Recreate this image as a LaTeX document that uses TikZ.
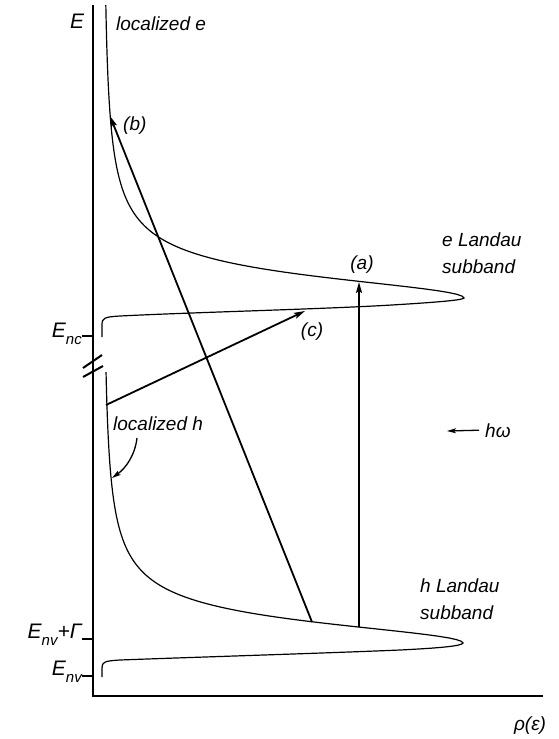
\documentclass[tikz,border=0pt]{standalone}
\usepackage{fontspec}
\setmainfont{Liberation Sans}
\usetikzlibrary{arrows.meta}
\newcommand\lsub[1]{\raisebox{-7pt}{\fontsize{15}{15}\selectfont #1}}

\begin{document}
\begin{tikzpicture}[x=1pt,y=-1pt,
    lbl/.style={font=\fontsize{19}{27}\selectfont\itshape,inner sep=0pt,align=left},
    elbl/.style={font=\fontsize{21}{24}\selectfont\itshape,inner sep=0pt},
    axis/.style={line width=2.6pt},
    tick/.style={line width=2pt},
    band/.style={line width=1.2pt},
    arr/.style={line width=1.8pt,-{Stealth[length=11pt,width=6pt,inset=2pt]}},
    sarr/.style={line width=1.3pt,-{Stealth[length=9pt,width=5pt,inset=2pt]}}]
    \useasboundingbox (0,0) rectangle (559,739);
    % axes
    \coordinate (o) at (93,696);
    \draw[axis] (93,5) -- (o) -- (543,696);
    \node[elbl,anchor=base west] (e) at (70,28) {E};
    \node[lbl,anchor=base] (rho) at (530,730) {ρ(ε)};
    % axis break
    \draw[tick] (83,368) -- (102,355);
    \draw[tick] (83,377) -- (103,366);
    % energy labels and ticks
    \node[elbl,anchor=base east] (enc) at (82,337) {E\lsub{nc}};
    \node[elbl,anchor=base east] (envg) at (82,638) {E\lsub{nv}+\textit{Γ}};
    \node[elbl,anchor=base east] (env) at (82,675) {E\lsub{nv}};
    \draw[tick] (enc.base east) ++(0,-1) -- ++(11,0);
    \draw[tick] (envg.base east) ++(0,1) -- ++(11,0);
    \draw[tick] (env.base east) ++(0,1) -- ++(11,0);
    % e Landau subband
    \draw[band] plot[domain=5:298,samples=160,variable=\t]
        ({103+361/(1+((\t-298)/26)^2)},\t)
        .. controls (463,300) and (440,302) .. (400,304.5)
        .. controls (330,309) and (200,312) .. (120,316)
        .. controls (104,317) and (102,318) .. (102,325) -- (102,337);
    % h Landau subband
    \draw[band] plot[domain=372:643,samples=160,variable=\t]
        ({103+360/(1+((\t-643)/25)^2)},\t)
        .. controls (462,646) and (440,648) .. (400,650)
        .. controls (330,653) and (200,657) .. (120,660)
        .. controls (104,661) and (102,662) .. (102,668) -- (102,677);
    % transitions
    \coordinate (a0) at (359,627); \coordinate (a1) at (359,282);
    \coordinate (b0) at (312,622); \coordinate (b1) at (110,116);
    \coordinate (c0) at (106,405); \coordinate (c1) at (305,311);
    \draw[arr] (a0) -- (a1);
    \draw[arr] (b0) -- (b1);
    \draw[arr] (c0) -- (c1);
    \node[lbl] (la) at (362,265) {(a)};
    \node[lbl,anchor=base west] (lb) at (123,130) {(b)};
    \node[lbl] (lc) at (312,332) {(c)};
    % labels
    \node[lbl,anchor=base west] (loce) at (116,30) {localized e};
    \node[lbl,anchor=base west] (loch) at (113,430) {localized h};
    \coordinate (lh0) at (137,438); \coordinate (lh1) at (112,478);
    \draw[sarr] (lh0) .. controls (135,455) and (126,468) .. (lh1);
    \node[lbl,anchor=north west] (eband) at (442,233) {e Landau\\subband};
    \node[lbl,anchor=north west] (hband) at (420,579) {h Landau\\subband};
    \node[lbl,anchor=base west] (hw) at (485,437) {hω};
    \coordinate (hwl) at (447,431);
    \draw[sarr] ([xshift=-6pt]hw.west) -- (hwl);
  \end{tikzpicture}
\end{document}
